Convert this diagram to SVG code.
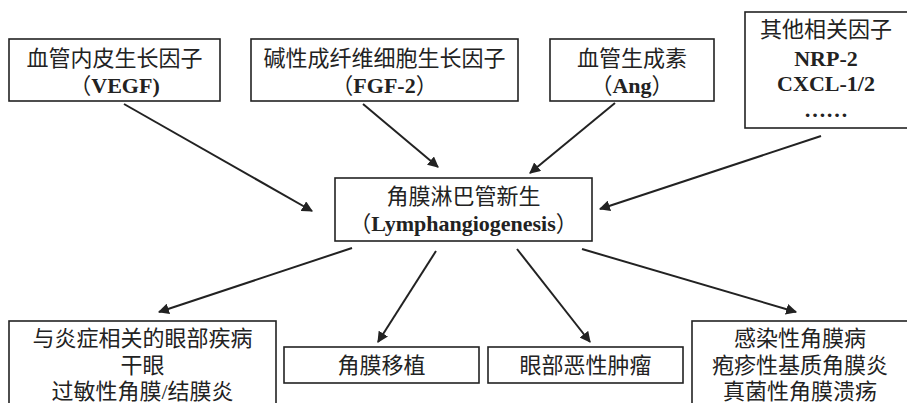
<svg xmlns="http://www.w3.org/2000/svg" width="907" height="403" viewBox="0 0 907 403">
<style>
.box{fill:#fff;stroke:#222;stroke-width:1.6}
.t{font-family:"Liberation Serif","Noto Sans CJK SC",serif;font-size:22px;fill:#222;text-anchor:middle}
.b{font-weight:bold}
.c{stroke:#222;stroke-width:2;fill:none;marker-end:url(#ah)}
</style>
<defs>
<marker id="ah" viewBox="0 0 10 10" refX="9" refY="5" markerWidth="5.5" markerHeight="5.5" orient="auto" markerUnits="strokeWidth">
<path d="M0,0L10,5L0,10z" fill="#222"/>
</marker>
</defs>
<rect width="907" height="403" fill="#fff"/>
<g id="connectors">
<line class="c" x1="124" y1="104" x2="312" y2="211"/>
<line class="c" x1="363" y1="104" x2="438" y2="167"/>
<line class="c" x1="615" y1="103" x2="530" y2="173"/>
<line class="c" x1="821" y1="136" x2="600" y2="209"/>
<line class="c" x1="352" y1="248" x2="159" y2="312"/>
<line class="c" x1="436" y1="251" x2="378" y2="342"/>
<line class="c" x1="517" y1="249" x2="590" y2="342"/>
<line class="c" x1="582" y1="249" x2="796" y2="312"/>
</g>
<g id="vegf">
<rect class="box" x="9" y="39" width="211" height="62"/>
<text class="t" x="114.5" y="66">血管内皮生长因子</text>
<text class="t" x="114.5" y="93">（<tspan class="b">VEGF)</tspan></text>
</g>
<g id="fgf">
<rect class="box" x="251" y="39" width="267" height="62"/>
<text class="t" x="384.5" y="66">碱性成纤维细胞生长因子</text>
<text class="t" x="384.5" y="93">（<tspan class="b">FGF-2</tspan>）</text>
</g>
<g id="ang">
<rect class="box" x="550" y="39" width="164" height="62"/>
<text class="t" x="632" y="66">血管生成素</text>
<text class="t" x="632" y="93">（<tspan class="b">Ang</tspan>）</text>
</g>
<g id="other">
<rect class="box" x="745" y="12" width="163" height="116"/>
<text class="t" x="826" y="37">其他相关因子</text>
<text class="t b" x="826" y="66">NRP-2</text>
<text class="t b" x="826" y="91">CXCL-1/2</text>
<text class="t b" x="826" y="117">……</text>
</g>
<g id="center">
<rect class="box" x="335" y="178" width="257" height="63"/>
<text class="t" x="463.5" y="204">角膜淋巴管新生</text>
<text class="t" x="463.5" y="231">（<tspan class="b">Lymphangiogenesis</tspan>）</text>
</g>
<g id="inflam">
<rect class="box" x="9" y="321" width="267" height="95"/>
<text class="t" x="142.5" y="346">与炎症相关的眼部疾病</text>
<text class="t" x="142.5" y="373">干眼</text>
<text class="t" x="142.5" y="399">过敏性角膜/结膜炎</text>
</g>
<g id="transplant">
<rect class="box" x="284" y="347" width="195" height="36"/>
<text class="t" x="381.5" y="373">角膜移植</text>
</g>
<g id="tumor">
<rect class="box" x="488" y="347" width="195" height="36"/>
<text class="t" x="585.5" y="373">眼部恶性肿瘤</text>
</g>
<g id="infect">
<rect class="box" x="692" y="321" width="216" height="95"/>
<text class="t" x="800" y="346">感染性角膜病</text>
<text class="t" x="800" y="373">疱疹性基质角膜炎</text>
<text class="t" x="800" y="399">真菌性角膜溃疡</text>
</g>
</svg>
